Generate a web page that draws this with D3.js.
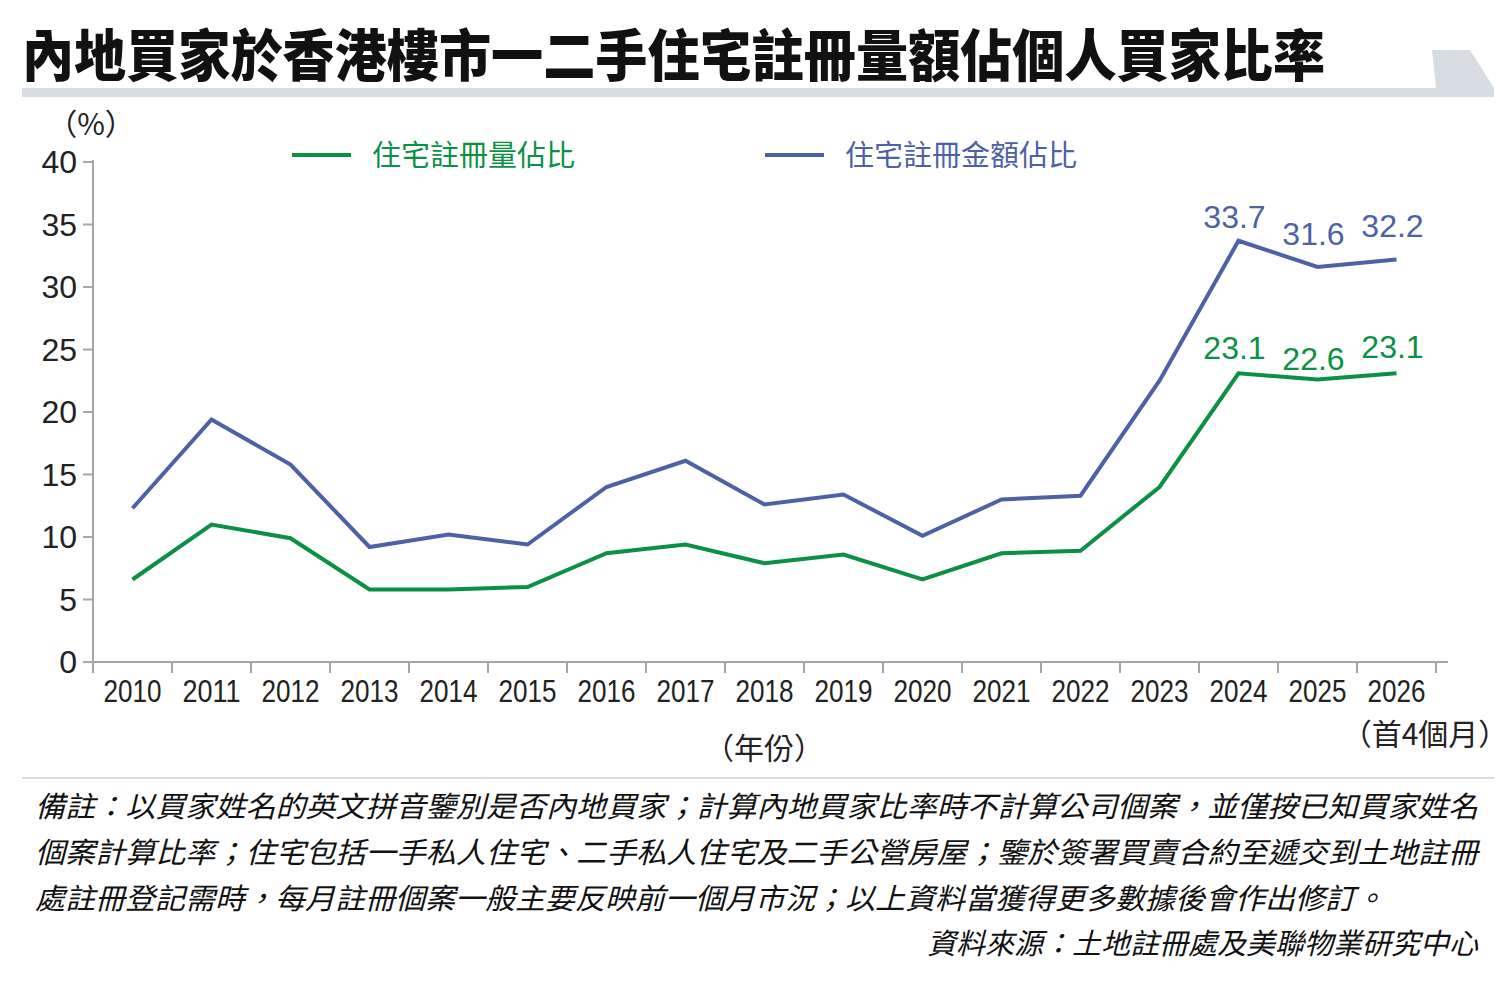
<!DOCTYPE html>
<html lang="zh-Hant">
<head>
<meta charset="UTF-8">
<title>內地買家比率</title>
<script src="https://d3js.org/d3.v7.min.js"></script>
<style>
  body { margin: 0; background: #fff; }
  svg { display: block; }
  .cjk { font-family: "Noto Sans CJK TC", "Noto Sans CJK SC", sans-serif; }
  .num { font-family: "Liberation Sans", Arial, sans-serif; }
  .narrow { font-family: "Liberation Sans Narrow", "Liberation Sans", sans-serif; }
</style>
</head>
<body>
<svg id="chart" width="1512" height="988"></svg>
<script>
// data
const years = ['2010','2011','2012','2013','2014','2015','2016','2017','2018',
  '2019','2020','2021','2022','2023','2024','2025','2026'];
const volumeShare = [6.6, 11.0, 9.9, 5.8, 5.8, 6.0, 8.7, 9.4, 7.9,
  8.6, 6.6, 8.7, 8.9, 14.0, 23.1, 22.6, 23.1];   // 住宅註冊量佔比
const valueShare = [12.3, 19.4, 15.8, 9.2, 10.2, 9.4, 14.0, 16.1, 12.6,
  13.4, 10.1, 13.0, 13.3, 22.5, 33.7, 31.6, 32.2];  // 住宅註冊金額佔比
const yTicks = [0, 5, 10, 15, 20, 25, 30, 35, 40];
const labelledYears = ['2024', '2025', '2026'];

const title = '內地買家於香港樓市一二手住宅註冊量額佔個人買家比率';
const notes = [
  '備註：以買家姓名的英文拼音鑒別是否內地買家；計算內地買家比率時不計算公司個案，並僅按已知買家姓名',
  '個案計算比率；住宅包括一手私人住宅、二手私人住宅及二手公營房屋；鑒於簽署買賣合約至遞交到土地註冊',
  '處註冊登記需時，每月註冊個案一般主要反映前一個月市況；以上資料當獲得更多數據後會作出修訂。'
];
const source = '資料來源：土地註冊處及美聯物業研究中心';

const green = '#0a9145';
const blue = '#4d62a6';
const axisGrey = '#a6a6a6';

const svg = d3.select('#chart');

// title + grey band with slanted tab
svg.append('path')
  .attr('d', 'M22,88 L1436,88 L1432,50 L1470,50 L1494,88 L1494,97 L22,97 Z')
  .attr('fill', '#d6dce2');
svg.append('text')
  .attr('class', 'cjk')
  .attr('x', 22).attr('y', 76)
  .attr('font-size', 56).attr('font-weight', 900)
  .attr('textLength', 1303).attr('lengthAdjust', 'spacingAndGlyphs')
  .attr('fill', '#111')
  .text(title);

// scales
const x = d3.scaleBand().domain(years).range([93, 1436]);
const y = d3.scaleLinear().domain([0, 40]).range([662, 162]);
const cx = d => x(d) + x.bandwidth() / 2;

// y axis
svg.append('line')
  .attr('x1', 93).attr('x2', 93).attr('y1', y(40) - 2).attr('y2', y(0))
  .attr('stroke', axisGrey).attr('stroke-width', 2);
yTicks.forEach(t => {
  svg.append('line')
    .attr('x1', 83).attr('x2', 93).attr('y1', y(t)).attr('y2', y(t))
    .attr('stroke', axisGrey).attr('stroke-width', 2);
  svg.append('text')
    .attr('class', 'num')
    .attr('x', 77).attr('y', y(t) + 11)
    .attr('text-anchor', 'end')
    .attr('font-size', 32).attr('fill', '#222')
    .text(t);
});
svg.append('text')
  .attr('class', 'cjk')
  .attr('x', 91).attr('y', 135)
  .attr('text-anchor', 'middle')
  .attr('font-size', 30).attr('fill', '#222')
  .text('（%）');

// x axis
svg.append('line')
  .attr('x1', 93).attr('x2', 1448).attr('y1', y(0)).attr('y2', y(0))
  .attr('stroke', axisGrey).attr('stroke-width', 2);
years.concat(['end']).forEach((d, i) => {
  const tx = i < years.length ? x(d) : x.range()[1];
  svg.append('line')
    .attr('x1', tx).attr('x2', tx).attr('y1', y(0)).attr('y2', y(0) + 11)
    .attr('stroke', axisGrey).attr('stroke-width', 2);
});
years.forEach(d => {
  svg.append('text')
    .attr('class', 'narrow')
    .attr('x', cx(d)).attr('y', 702)
    .attr('text-anchor', 'middle')
    .attr('font-size', 31).attr('fill', '#222')
    .attr('textLength', 58).attr('lengthAdjust', 'spacingAndGlyphs')
    .text(d);
});
svg.append('text')
  .attr('class', 'cjk')
  .attr('x', 1425).attr('y', 745)
  .attr('text-anchor', 'middle')
  .attr('font-size', 30).attr('fill', '#222')
  .text('（首4個月）');
svg.append('text')
  .attr('class', 'cjk')
  .attr('x', 764).attr('y', 759)
  .attr('text-anchor', 'middle')
  .attr('font-size', 30).attr('fill', '#222')
  .text('（年份）');

// lines
const line = d3.line().x((d, i) => cx(years[i])).y(d => y(d));
[[valueShare, blue], [volumeShare, green]].forEach(([vals, col]) => {
  svg.append('path')
    .datum(vals)
    .attr('d', line)
    .attr('fill', 'none')
    .attr('stroke', col)
    .attr('stroke-width', 4)
    .attr('stroke-linejoin', 'miter');
});

// value labels for last three years
const blueOffset = { '2024': -13, '2025': -22, '2026': -23 };
const greenOffset = { '2024': -14, '2025': -10, '2026': -15 };
labelledYears.forEach(d => {
  const i = years.indexOf(d);
  svg.append('text')
    .attr('class', 'num')
    .attr('x', cx(d) - 4).attr('y', y(valueShare[i]) + blueOffset[d])
    .attr('text-anchor', 'middle')
    .attr('font-size', 32).attr('fill', blue)
    .text(valueShare[i].toFixed(1));
  svg.append('text')
    .attr('class', 'num')
    .attr('x', cx(d) - 4).attr('y', y(volumeShare[i]) + greenOffset[d])
    .attr('text-anchor', 'middle')
    .attr('font-size', 32).attr('fill', green)
    .text(volumeShare[i].toFixed(1));
});

// legend
const legend = [
  { label: '住宅註冊量佔比', color: green, x: 292 },
  { label: '住宅註冊金額佔比', color: blue, x: 765 }
];
legend.forEach(l => {
  svg.append('line')
    .attr('x1', l.x).attr('x2', l.x + 59).attr('y1', 155).attr('y2', 155)
    .attr('stroke', l.color).attr('stroke-width', 4);
  svg.append('text')
    .attr('class', 'cjk')
    .attr('x', l.x + 80).attr('y', 166)
    .attr('font-size', 29).attr('fill', l.color)
    .text(l.label);
});

// separator + notes
svg.append('line')
  .attr('x1', 22).attr('x2', 1494).attr('y1', 778).attr('y2', 778)
  .attr('stroke', '#d3dde4').attr('stroke-width', 2);

const noteLens = [1443, 1443, 1350];
notes.forEach((n, i) => {
  svg.append('text')
    .attr('class', 'cjk')
    .attr('x', 35).attr('y', 817 + i * 46)
    .attr('font-size', 29).attr('font-style', 'italic').attr('fill', '#111')
    .attr('textLength', noteLens[i]).attr('lengthAdjust', 'spacingAndGlyphs')
    .text(n);
});
svg.append('text')
  .attr('class', 'cjk')
  .attr('x', 1478).attr('y', 954)
  .attr('text-anchor', 'end')
  .attr('font-size', 29).attr('font-style', 'italic').attr('fill', '#111')
  .text(source);
</script>
</body>
</html>
